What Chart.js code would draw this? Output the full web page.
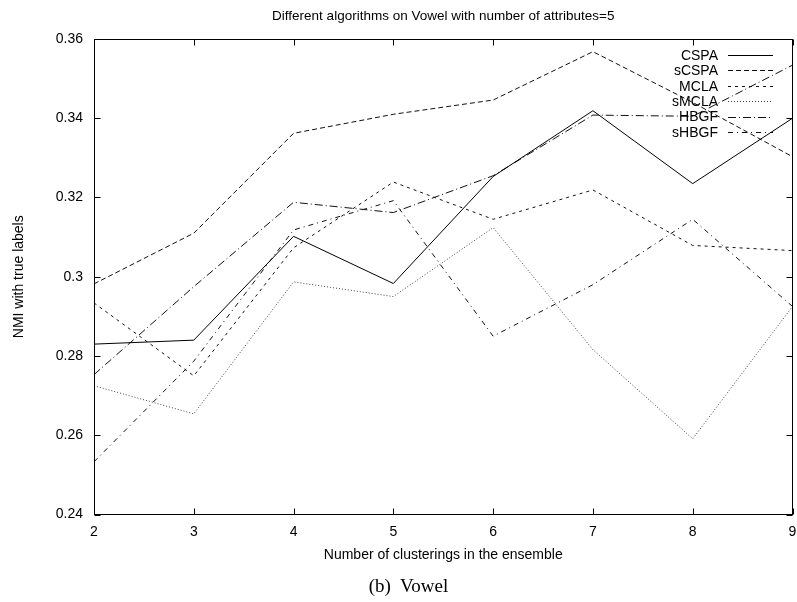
<!DOCTYPE html>
<html>
<head>
<meta charset="utf-8">
<script src="https://cdn.jsdelivr.net/npm/chart.js@4.4.0/dist/chart.umd.min.js"></script>
<style>
  html, body { margin: 0; padding: 0; background: #fff; }
  #wrap { position: relative; width: 797px; height: 602px; }
  #caption {
    position: absolute; left: 0; width: 817px; top: 575px; line-height: 22px;
    text-align: center; font-family: "Liberation Serif", "Times New Roman", serif;
    font-size: 19px; color: #000; white-space: pre;
  }
</style>
</head>
<body>
<div id="wrap">
  <canvas id="chart" width="797" height="602"></canvas>
  <div id="caption">(b)  Vowel</div>
</div>
<script>
// ensemble sizes on the x axis
const ensembleSizes = [2, 3, 4, 5, 6, 7, 8, 9];

// NMI values
const cspa  = [0.2830, 0.2840, 0.3102, 0.2983, 0.3253, 0.3419, 0.3235, 0.3400];
const scspa = [0.2982, 0.3110, 0.3362, 0.3410, 0.3446, 0.3568, 0.3440, 0.3303];
const mcla  = [0.2934, 0.2750, 0.3073, 0.3239, 0.3145, 0.3219, 0.3079, 0.3066];
const smcla = [0.2725, 0.2654, 0.2987, 0.2950, 0.3124, 0.2816, 0.2591, 0.2925];
const hbgf  = [0.2753, 0.2975, 0.3188, 0.3162, 0.3255, 0.3408, 0.3405, 0.3534];
const shbgf = [0.2533, 0.2787, 0.3118, 0.3192, 0.2850, 0.2980, 0.3145, 0.2925];

const seriesNames = ['CSPA', 'sCSPA', 'MCLA', 'sMCLA', 'HBGF', 'sHBGF'];
const seriesValues = [cspa, scspa, mcla, smcla, hbgf, shbgf];

const yTicks = [0.24, 0.26, 0.28, 0.30, 0.32, 0.34, 0.36];

const FONT = '"Liberation Sans", Arial, Helvetica, sans-serif';

// gnuplot style line types
const dashes = [[], [5, 3], [3, 4], [1, 2], [8, 3, 1, 3], [5, 4, 1, 4]];
const colors = ['#000', '#111', '#111', '#444', '#111', '#111'];

const datasets = seriesNames.map((name, i) => ({
  label: name,
  data: ensembleSizes.map((x, j) => ({ x: x, y: seriesValues[i][j] })),
  borderColor: colors[i],
  backgroundColor: colors[i],
  borderWidth: 1,
  borderDash: dashes[i],
  pointRadius: 0,
  tension: 0,
  fill: false
}));

// frame with inward ticks on all four sides, like gnuplot
const framePlugin = {
  id: 'frame',
  afterDatasetsDraw(chart) {
    const ctx = chart.ctx;
    const a = chart.chartArea;
    const xs = chart.scales.x, ys = chart.scales.y;
    const L = Math.round(a.left) + 0.5, R = Math.round(a.right) - 0.5;
    const T = Math.round(a.top) + 0.5, B = Math.round(a.bottom) - 0.5;
    const tick = 6;
    ctx.save();
    ctx.strokeStyle = '#000';
    ctx.lineWidth = 1;
    ctx.setLineDash([]);
    ctx.strokeRect(L, T, R - L, B - T);
    ctx.beginPath();
    xs.ticks.forEach(t => {
      const px = Math.round(xs.getPixelForValue(t.value)) + 0.5;
      ctx.moveTo(px, B); ctx.lineTo(px, B - tick);
      ctx.moveTo(px, T); ctx.lineTo(px, T + tick);
    });
    ys.ticks.forEach(t => {
      const py = Math.round(ys.getPixelForValue(t.value)) + 0.5;
      ctx.moveTo(L, py); ctx.lineTo(L + tick, py);
      ctx.moveTo(R, py); ctx.lineTo(R - tick, py);
    });
    ctx.stroke();
    ctx.restore();
  }
};

// key in the top right corner: label then line sample
const keyPlugin = {
  id: 'key',
  afterDraw(chart) {
    const ctx = chart.ctx;
    const textRight = 718, lineLeft = 728, lineRight = 773;
    ctx.save();
    ctx.font = '14px ' + FONT;
    ctx.textAlign = 'right';
    ctx.textBaseline = 'middle';
    chart.data.datasets.forEach((ds, i) => {
      const y = 55 + i * 15.4;
      ctx.fillStyle = '#000';
      ctx.fillText(ds.label, textRight, y + 1);
      ctx.strokeStyle = ds.borderColor;
      ctx.lineWidth = 1;
      ctx.setLineDash(ds.borderDash);
      ctx.beginPath();
      ctx.moveTo(lineLeft, Math.round(y) + 0.5);
      ctx.lineTo(lineRight, Math.round(y) + 0.5);
      ctx.stroke();
    });
    ctx.restore();
  }
};

new Chart(document.getElementById('chart'), {
  type: 'line',
  data: { datasets: datasets },
  options: {
    responsive: false,
    animation: false,
    events: [],
    layout: { padding: { left: 0, top: 0, right: 4.5, bottom: 0 } },
    plugins: {
      legend: { display: false },
      tooltip: { enabled: false },
      title: { display: false }
    },
    scales: {
      x: {
        type: 'linear',
        position: 'bottom',
        min: 2,
        max: 9,
        grid: { display: false, drawTicks: false },
        border: { display: false },
        ticks: {
          stepSize: 1,
          padding: 9,
          color: '#000',
          font: { family: FONT, size: 14 },
          maxRotation: 0
        },
        title: {
          display: true,
          text: 'Number of clusterings in the ensemble',
          color: '#000',
          font: { family: FONT, size: 14 },
          padding: { top: 0, bottom: 38 }
        },
        afterFit(scale) {
          scale.height = 87.5;
          scale.paddingLeft = 0;
          scale.paddingRight = 0;
        }
      },
      top: {
        type: 'linear',
        position: 'top',
        min: 2,
        max: 9,
        grid: { display: false, drawTicks: false },
        border: { display: false },
        ticks: { display: false },
        title: {
          display: true,
          text: 'Different algorithms on Vowel with number of attributes=5',
          color: '#000',
          font: { family: FONT, size: 13.5 },
          padding: { top: 8.6, bottom: 0 }
        },
        afterFit(scale) {
          scale.height = 39;
          scale.paddingLeft = 0;
          scale.paddingRight = 0;
        }
      },
      y: {
        type: 'linear',
        min: 0.24,
        max: 0.36,
        grid: { display: false, drawTicks: false },
        border: { display: false },
        afterBuildTicks(scale) {
          scale.ticks = yTicks.map(v => ({ value: v }));
        },
        ticks: {
          padding: 11,
          color: '#000',
          font: { family: FONT, size: 14 },
          callback: v => String(Number(v.toFixed(2)))
        },
        title: {
          display: true,
          text: 'NMI with true labels',
          color: '#000',
          font: { family: FONT, size: 14 },
          padding: { top: 10.6, bottom: 0 }
        },
        afterFit(scale) {
          scale.width = 94;
          scale.paddingTop = 0;
          scale.paddingBottom = 0;
        }
      }
    }
  },
  plugins: [framePlugin, keyPlugin]
});
</script>
</body>
</html>
